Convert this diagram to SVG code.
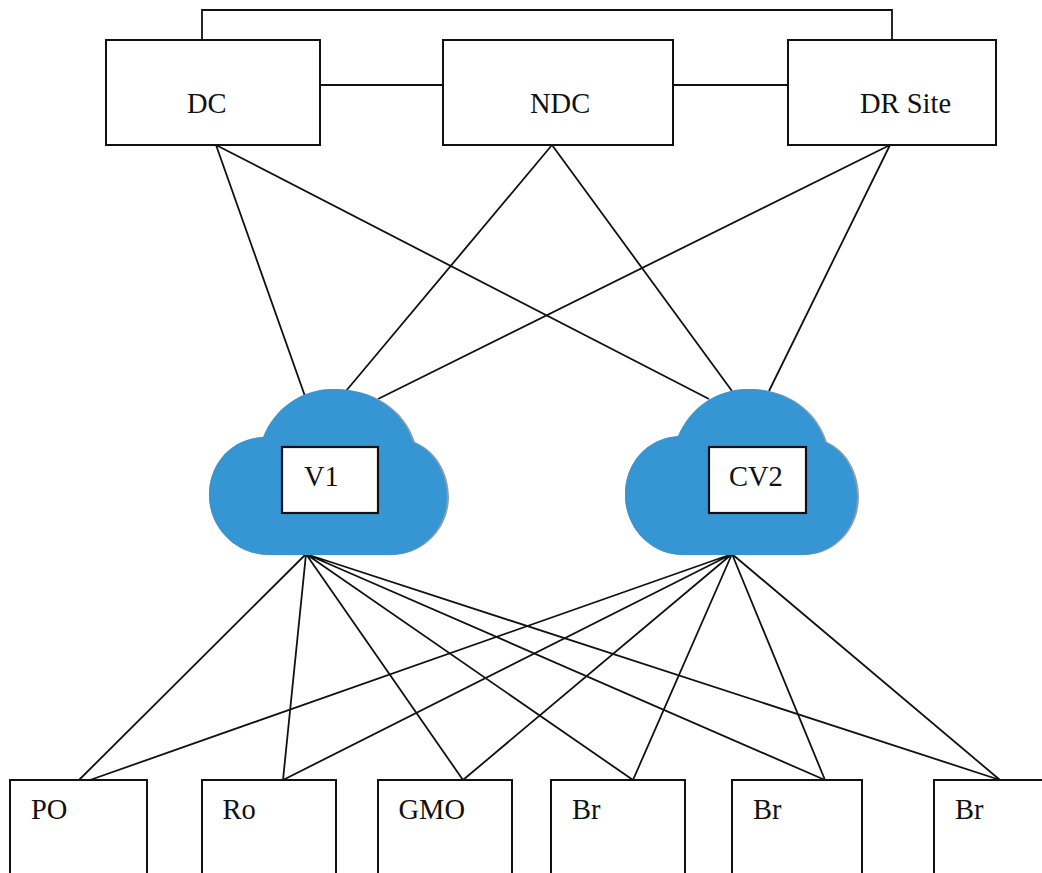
<svg xmlns="http://www.w3.org/2000/svg" width="1042" height="873" viewBox="0 0 1042 873">
<style>
.b{fill:#fff;stroke:#111;stroke-width:2}
.c{fill:none;stroke:#111;stroke-width:1.8}
.w{fill:#fff;stroke:#111;stroke-width:2.2}
text{font-family:"Liberation Serif","Times New Roman",serif;font-size:28.5px;fill:#111}
.cl{fill:#3695d3}
.sh{fill:#8f9ea8}
</style>
<rect width="1042" height="873" fill="#fff"/>
<g id="connectors" class="c">
<path d="M202 40V10H892V40"/>
<path d="M320 85H443M673 85H788"/>
<path d="M216 145L306 399M216 145L709 399M552 145L346 391M552 145L732 391M890 145L378 399M890 145L769 391"/>
<path d="M306 554L79 780M306 554L283 780M306 554L463 780M306 554L633 780M306 554L825 780M306 554L1000 780"/>
<path d="M732 554L90 780M732 554L283 780M732 554L463 780M732 554L633 780M732 554L825 780M732 554L1000 780"/>
</g>
<g id="node-dc"><rect class="b" x="106" y="40" width="214" height="105"/><text x="187" y="112.500">DC</text></g>
<g id="node-ndc"><rect class="b" x="443" y="40" width="230" height="105"/><text x="530" y="112.500">NDC</text></g>
<g id="node-dr"><rect class="b" x="788" y="40" width="208" height="105"/><text x="860" y="112.500">DR Site</text></g>
<g id="node-v1">
<path class="sh" d="M209 495C209 463 232 438 265 437C277 408 303 389 335 389C374 389 405 410 415 442C435 450 449 472 449 497C449 529 423 555 392 555H269C236 555 209 528 209 495Z"/>
<path class="cl" d="M209 495C209 463 232 438 263 437C275 408 301 389 333 389C372 389 403 410 413 442C433 450 447 472 447 497C447 529 421 555 390 555H269C236 555 209 528 209 495Z"/>
<rect class="w" x="282" y="447" width="96" height="66"/><text x="304" y="486">V1</text>
</g>
<g id="node-cv2">
<path class="sh" d="M625 495C625 463 647 438 680 436C692 408 718 389 750 389C787 389 817 410 827 442C846 450 859 472 859 497C859 529 835 555 804 555H683C651 555 625 528 625 495Z"/>
<path class="cl" d="M625 495C625 463 647 438 678 436C690 408 716 389 748 389C785 389 815 410 825 442C844 450 857 472 857 497C857 529 833 555 802 555H683C651 555 625 528 625 495Z"/>
<rect class="w" x="709" y="447" width="97" height="66"/><text x="729" y="486">CV2</text>
</g>
<g id="node-po"><rect class="b" x="10" y="780" width="137" height="110"/><text x="31" y="819">PO</text></g>
<g id="node-ro"><rect class="b" x="202" y="780" width="134" height="110"/><text x="222.500" y="819">Ro</text></g>
<g id="node-gmo"><rect class="b" x="378" y="780" width="134" height="110"/><text x="398.500" y="819">GMO</text></g>
<g id="node-br1"><rect class="b" x="551" y="780" width="134" height="110"/><text x="572" y="819">Br</text></g>
<g id="node-br2"><rect class="b" x="732" y="780" width="130" height="110"/><text x="753" y="819">Br</text></g>
<g id="node-br3"><rect class="b" x="934" y="780" width="134" height="110"/><text x="955" y="819">Br</text></g>
</svg>
